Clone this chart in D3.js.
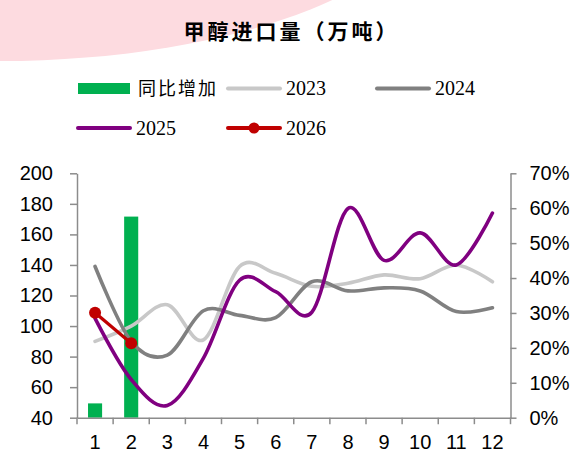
<!DOCTYPE html>
<html>
<head>
<meta charset="utf-8">
<script src="https://cdn.jsdelivr.net/npm/d3@7/dist/d3.min.js"></script>
<style>
  html, body { margin: 0; padding: 0; background: #fff; }
  svg { display: block; }
</style>
</head>
<body>
<svg id="chart" width="579" height="454"></svg>
<script>
// Monthly methanol imports (10k tonnes) and the year-on-year change for 2026
const months = [1, 2, 3, 4, 5, 6, 7, 8, 9, 10, 11, 12];
const imports2023 = [90, 100, 114, 91, 139, 134.5, 126, 128, 133.5, 131, 140, 129];
const imports2024 = [139, 90, 81, 110, 107, 105.5, 129, 123, 125, 123, 109.5, 112];
const imports2025 = [105, 65, 48, 79, 130, 122.5, 109, 177, 143, 161, 140, 174];
const imports2026 = [108.7, 88.7];
const yoyIncrease = [0.041, 0.576];
const leftTicks = [40, 60, 80, 100, 120, 140, 160, 180, 200];
const rightTicks = [0, 0.1, 0.2, 0.3, 0.4, 0.5, 0.6, 0.7];
const titleText = "甲醇进口量（万吨）";
const barName = "同比增加";
const seriesNames = ["2023", "2024", "2025", "2026"];

const svg = d3.select("#chart");
const plot = { left: 77, right: 510.5, top: 173.3, bottom: 417.7 };
const axisColor = "#8c8c8c";
const colors = { bar: "#00b050", s2023: "#c8c8c8", s2024: "#808080", s2025: "#800080", s2026: "#c00000" };

// soft pink backdrop in the top-left corner
svg.append("ellipse")
  .attr("cx", 0).attr("cy", -116).attr("rx", 440).attr("ry", 177)
  .attr("fill", "#fddbe0");

// title
svg.append("text")
  .attr("x", 291.5).attr("y", 39)
  .attr("text-anchor", "middle")
  .style("font-family", "'Noto Sans CJK SC', sans-serif")
  .style("font-weight", 700)
  .style("font-size", "21px")
  .style("letter-spacing", "3px")
  .attr("fill", "#000")
  .text(titleText);

// scales
const x = d3.scaleBand().domain(months).range([plot.left, plot.right]).padding(0);
const cx = m => x(m) + x.bandwidth() / 2;
const yL = d3.scaleLinear().domain([40, 200]).range([plot.bottom, plot.top]);
const yR = d3.scaleLinear().domain([0, 0.7]).range([plot.bottom, plot.top]);

// bars: year-on-year increase on the right axis
const barW = x.bandwidth() * 0.39;
svg.append("g").selectAll("rect")
  .data(yoyIncrease)
  .join("rect")
  .attr("x", (d, i) => cx(months[i]) - barW / 2)
  .attr("width", barW)
  .attr("y", d => yR(d))
  .attr("height", d => yR(0) - yR(d))
  .attr("fill", colors.bar);

// axes
const tickFont = "'Liberation Sans', Arial, sans-serif";
function styleAxis(g) {
  g.select(".domain").attr("stroke", axisColor).attr("stroke-width", 1.5);
  g.selectAll(".tick line").attr("stroke", axisColor).attr("stroke-width", 1.5);
  g.selectAll(".tick text").attr("fill", "#000")
    .style("font-family", tickFont).style("font-size", "20px");
}

svg.append("g")
  .attr("transform", `translate(${plot.left},0)`)
  .call(d3.axisLeft(yL).tickValues(leftTicks).tickSize(7).tickSizeOuter(0).tickPadding(17))
  .call(styleAxis);

svg.append("g")
  .attr("transform", `translate(${plot.right},0)`)
  .call(d3.axisRight(yR).tickValues(rightTicks).tickSize(6).tickSizeOuter(0).tickPadding(13)
    .tickFormat(d3.format(".0%")))
  .call(styleAxis);

const xAxis = svg.append("g")
  .attr("transform", `translate(0,${plot.bottom})`)
  .call(d3.axisBottom(x).tickSize(0).tickPadding(17).tickSizeOuter(0))
  .call(styleAxis);
// tick marks on the category boundaries
const boundaries = months.map(m => x(m)).concat([x.range()[1]]);
xAxis.selectAll(".bound")
  .data(boundaries)
  .join("line")
  .attr("class", "bound")
  .attr("x1", d => d).attr("x2", d => d)
  .attr("y1", 0).attr("y2", 6.5)
  .attr("stroke", axisColor).attr("stroke-width", 1.5);

// smoothed yearly lines
const smooth = d3.line()
  .x((d, i) => cx(months[i]))
  .y(d => yL(d))
  .curve(d3.curveCardinal.tension(0));

const lines = [
  { data: imports2023, color: colors.s2023 },
  { data: imports2024, color: colors.s2024 },
  { data: imports2025, color: colors.s2025 }
];
lines.forEach(s => {
  svg.append("path")
    .attr("d", smooth(s.data))
    .attr("fill", "none")
    .attr("stroke", s.color)
    .attr("stroke-width", 3.6)
    .attr("stroke-linejoin", "round")
    .attr("stroke-linecap", "round");
});

// 2026 line with markers
const straight = d3.line().x((d, i) => cx(months[i])).y(d => yL(d));
svg.append("path")
  .attr("d", straight(imports2026))
  .attr("fill", "none")
  .attr("stroke", colors.s2026)
  .attr("stroke-width", 3.2);
svg.append("g").selectAll("circle")
  .data(imports2026)
  .join("circle")
  .attr("cx", (d, i) => cx(months[i]))
  .attr("cy", d => yL(d))
  .attr("r", 6)
  .attr("fill", colors.s2026);

// legend
const legendItems = [
  { kind: "bar", label: barName, color: colors.bar, x: 78, y: 88.5 },
  { kind: "line", label: seriesNames[0], color: colors.s2023, x: 227, y: 88.5 },
  { kind: "line", label: seriesNames[1], color: colors.s2024, x: 376, y: 88.5 },
  { kind: "line", label: seriesNames[2], color: colors.s2025, x: 77, y: 128 },
  { kind: "marker", label: seriesNames[3], color: colors.s2026, x: 227, y: 128 }
];
const symW = 53;
const legend = svg.append("g");
legendItems.forEach(it => {
  const g = legend.append("g");
  if (it.kind === "bar") {
    g.append("rect").attr("x", it.x).attr("y", it.y - 5.5)
      .attr("width", symW - 1).attr("height", 11).attr("fill", it.color);
  } else {
    g.append("line").attr("x1", it.x + 1).attr("x2", it.x + symW)
      .attr("y1", it.y).attr("y2", it.y)
      .attr("stroke", it.color).attr("stroke-width", 4)
      .attr("stroke-linecap", "round");
    if (it.kind === "marker") {
      g.append("circle").attr("cx", it.x + symW / 2 + 0.5).attr("cy", it.y)
        .attr("r", 5.5).attr("fill", it.color);
    }
  }
  const isCjk = it.kind === "bar";
  g.append("text")
    .attr("x", it.x + (isCjk ? 60 : 59))
    .attr("y", it.y)
    .attr("dy", isCjk ? "0.36em" : "0.34em")
    .attr("fill", "#000")
    .style("font-family", isCjk ? "'Noto Sans CJK SC', sans-serif" : "'Liberation Serif', 'Times New Roman', serif")
    .style("font-size", isCjk ? "18px" : "20px")
    .style("letter-spacing", isCjk ? "2px" : "0px")
    .text(it.label);
});
</script>
</body>
</html>
